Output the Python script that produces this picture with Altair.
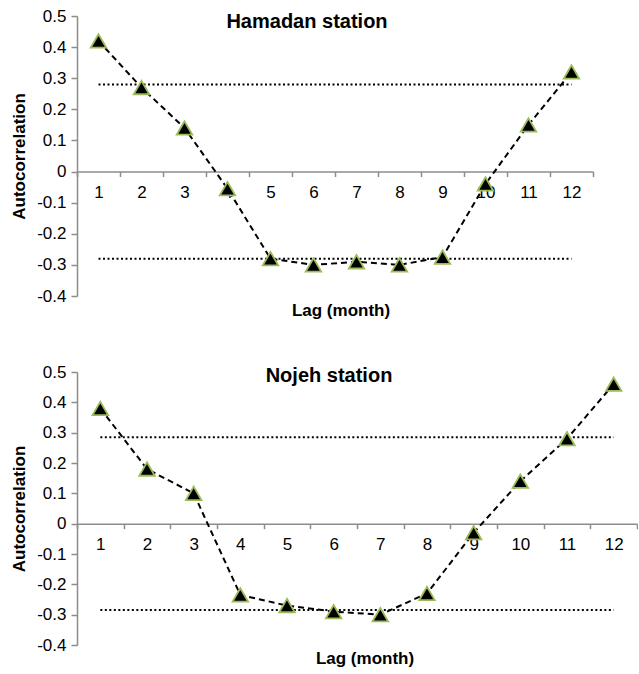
import altair as alt
import pandas as pd

lags = list(range(1, 13))
hamadan = [0.42, 0.27, 0.14, -0.055, -0.28, -0.30, -0.29, -0.30, -0.275, -0.04, 0.15, 0.32]
nojeh = [0.38, 0.18, 0.10, -0.235, -0.27, -0.29, -0.30, -0.23, -0.03, 0.14, 0.28, 0.46]
hamadan_limit = 0.28
nojeh_limit = 0.285
y_ticks = [-0.4, -0.3, -0.2, -0.1, 0, 0.1, 0.2, 0.3, 0.4, 0.5]

FONT = "Liberation Sans"
GRAY = "#8c8c8c"


def panel(name, values, limit, width, height, title_x, title_y, lab_x, lab_y):
    df = pd.DataFrame({"lag": lags, "r": values})
    lim = pd.DataFrame({
        "lag": [lags[0], lags[-1], lags[0], lags[-1]],
        "r": [limit, limit, -limit, -limit],
        "g": ["u", "u", "l", "l"],
    })
    x_enc = alt.X(
        "lag:O",
        scale=alt.Scale(paddingInner=0, paddingOuter=0),
        axis=alt.Axis(
            title=None, labelAngle=0, tickBand="extent", offset=-height * 4 / 9,
            domainColor=GRAY, tickColor=GRAY, tickSize=5, domainWidth=1.5, tickWidth=1.5,
            labelFont=FONT, labelFontSize=17, labelColor="black", labelPadding=8,
            grid=False,
        ),
    )
    y_enc = alt.Y(
        "r:Q",
        scale=alt.Scale(domain=[-0.4, 0.5], nice=False, zero=False),
        axis=alt.Axis(
            values=y_ticks,
            labelExpr="replace(format(datum.value, '.1~f'), '\u2212', '-')",
            title="Autocorrelation", titleFont=FONT, titleFontSize=17, titleFontWeight="bold",
            titleColor="black", titlePadding=8,
            domainColor=GRAY, tickColor=GRAY, tickSize=6, domainWidth=1.5, tickWidth=1.5,
            labelFont=FONT, labelFontSize=17, labelColor="black", labelPadding=5,
            grid=False,
        ),
    )
    dotted = alt.Chart(lim).mark_line(color="black", strokeDash=[2, 2.5], strokeWidth=2).encode(
        x=x_enc, y=y_enc, detail="g:N"
    )
    line = alt.Chart(df).mark_line(color="black", strokeDash=[6, 4], strokeWidth=2).encode(
        x=x_enc, y=y_enc
    )
    pts = alt.Chart(df).mark_point(
        shape="triangle-up", filled=True, fill="black", stroke="#9bbb59",
        strokeWidth=1.8, size=240, opacity=1,
    ).encode(x=x_enc, y=y_enc)
    ttl = alt.Chart(pd.DataFrame({"t": [name]})).mark_text(
        font=FONT, fontSize=20, fontWeight="bold", color="black", align="center", baseline="middle"
    ).encode(text="t:N", x=alt.value(title_x), y=alt.value(title_y))
    xl = alt.Chart(pd.DataFrame({"t": ["Lag (month)"]})).mark_text(
        font=FONT, fontSize=17, fontWeight="bold", color="black", align="center", baseline="middle"
    ).encode(text="t:N", x=alt.value(lab_x), y=alt.value(lab_y))
    return alt.layer(dotted, line, pts, ttl, xl).properties(width=width, height=height)


top = panel("Hamadan station", hamadan, hamadan_limit, 516, 280, 230, 6, 264, 295)
bottom = panel("Nojeh station", nojeh, nojeh_limit, 560, 273, 252, 4, 288, 287)

chart = alt.vconcat(top, bottom, spacing=44).properties(
    padding={"left": 10, "top": 7, "right": 0, "bottom": 0}
).configure_view(stroke=None).configure_concat(spacing=44)

chart.save("out.html", embed_options={"renderer": "svg", "actions": False})
